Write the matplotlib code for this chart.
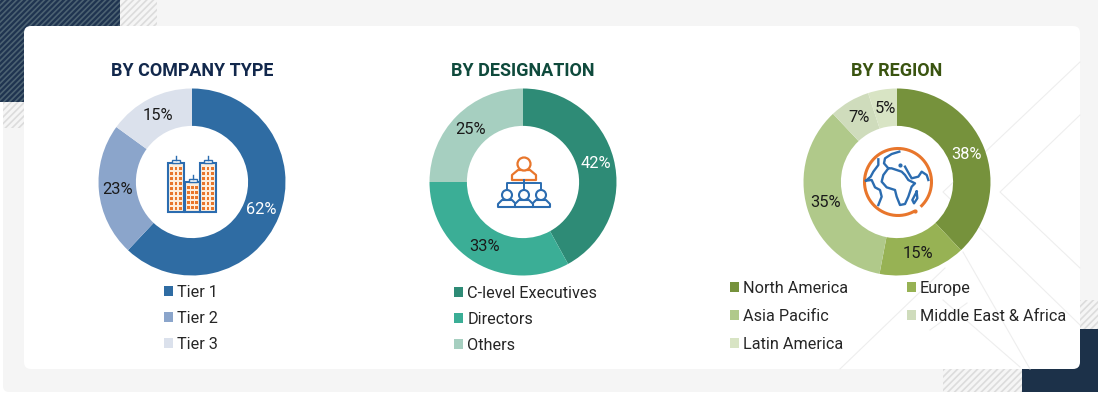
import numpy as np
import matplotlib
matplotlib.use('Agg')
import matplotlib.pyplot as plt
from matplotlib.patches import Rectangle, FancyBboxPatch, Circle, Polygon

W, H = 1100, 393

# data
company_labels = ['Tier 1', 'Tier 2', 'Tier 3']
company_values = [62, 23, 15]
company_colors = ['#2f6ca3', '#8ba5cb', '#dbe1ec']

designation_labels = ['C-level Executives', 'Directors', 'Others']
designation_values = [42, 33, 25]
designation_colors = ['#2e8b76', '#3bae96', '#a6cfc0']

region_labels = ['North America', 'Europe', 'Asia Pacific', 'Middle East & Africa', 'Latin America']
region_values = [38, 15, 35, 7, 5]
region_colors = ['#76923c', '#97b254', '#b0c98a', '#cfdcbc', '#d8e4c4']

plt.rcParams['font.family'] = ['Roboto', 'DejaVu Sans']
plt.rcParams['hatch.linewidth'] = 1.2

fig = plt.figure(figsize=(W / 100, H / 100), dpi=100, facecolor='white')

# background layer in pixel coordinates
bg = fig.add_axes([0, 0, 1, 1], zorder=0)
bg.set_xlim(0, W)
bg.set_ylim(H, 0)
bg.axis('off')

bg.add_patch(FancyBboxPatch((3, -8), 1095, 400, boxstyle='round,pad=0,rounding_size=6',
                            fc='#f5f5f5', ec='none'))
bg.add_patch(Rectangle((0, 0), 120, 102, fc='#1f3450', ec='#4c6272', hatch='//////', lw=0))
bg.add_patch(Rectangle((120, 0), 37, 26, fc='#f5f5f5', ec='#dcdcdc', hatch='/////', lw=0))
bg.add_patch(Rectangle((3, 102), 21, 26, fc='#f5f5f5', ec='#dcdcdc', hatch='/////', lw=0))
bg.add_patch(Rectangle((1022, 329), 76, 63, fc='#1c3149', ec='none'))
bg.add_patch(Rectangle((943, 369), 79, 23, fc='#f5f5f5', ec='#dcdcdc', hatch='/////', lw=0))
bg.add_patch(Rectangle((1080, 300), 18, 29, fc='#f5f5f5', ec='#dcdcdc', hatch='/////', lw=0))
bg.add_patch(FancyBboxPatch((24, 26), 1056, 343, boxstyle='round,pad=0,rounding_size=7', fc='white', ec='none'))

# faint chevrons behind the region chart
for xs, ys in [([1080, 943, 1080], [62, 192, 325]),
               ([1080, 1000, 1080], [115, 192, 268]),
               ([963, 1030], [252, 369]),
               ([840, 945], [369, 268]),
               ([930, 967], [330, 303]),
               ([943, 1020], [300, 367])]:
    bg.plot(xs, ys, color='#eeeeee', lw=0.8)


def donut(cx, values, colors):
    r = 93.5
    cy = 182
    ax = fig.add_axes([(cx - r) / W, 1 - (cy + r) / H, 2 * r / W, 2 * r / H], zorder=1)
    wedges, _, pct = ax.pie(values, colors=colors, startangle=90, counterclock=False, radius=1,
                            wedgeprops={'width': 0.4, 'linewidth': 0}, autopct='%d%%', pctdistance=0.8)
    ax.set_xlim(-1, 1)
    ax.set_ylim(-1, 1)
    for t in pct:
        t.set_fontsize(11.8)
        t.set_color('#1a1a1a')
    return wedges, pct


w1, p1 = donut(192, company_values, company_colors)
w2, p2 = donut(523, designation_values, designation_colors)
w3, p3 = donut(897, region_values, region_colors)
p1[0].set_color('white')
p2[0].set_color('white')
p3[0].set_color('white')

# titles
fg = fig.add_axes([0, 0, 1, 1], zorder=2)
fg.set_xlim(0, W)
fg.set_ylim(H, 0)
fg.axis('off')
fg.patch.set_alpha(0)
fg.text(192, 71, 'BY COMPANY TYPE', ha='center', va='center', fontsize=12.9, fontweight='bold', color='#12284c')
fg.text(523, 71, 'BY DESIGNATION', ha='center', va='center', fontsize=13, fontweight='bold', color='#0f4a3c')
fg.text(897, 71, 'BY REGION', ha='center', va='center', fontsize=13, fontweight='bold', color='#3a5410')

# legends
leg_opts = dict(frameon=False, fontsize=11.7, borderpad=0, borderaxespad=0, handlelength=0.56, handleheight=0.56,
                handletextpad=0.25, labelcolor='#262626', loc='upper left')
fig.legend(w1, company_labels, bbox_to_anchor=(164 / W, 1 - 285 / H), labelspacing=0.68, **leg_opts)
fig.legend(w2, designation_labels, bbox_to_anchor=(454 / W, 1 - 286 / H), labelspacing=0.68, **leg_opts)
order = [0, 2, 4, 1, 3]
fig.legend([w3[i] for i in order], [region_labels[i] for i in order], ncol=2, columnspacing=3.6,
           bbox_to_anchor=(730 / W, 1 - 281 / H), labelspacing=0.8, **leg_opts)

# building icon
blue = '#2b6cb0'
orange = '#e8762c'
for x0, y0, x1 in [(168, 163, 184), (185, 182, 200), (200, 163, 216)]:
    fg.add_patch(Rectangle((x0, y0), x1 - x0, 212 - y0, fc='#fdeedd', ec=blue, lw=1.5))
    fg.add_patch(Rectangle(((x0 + x1) / 2 - 4, y0 - 3), 8, 3, fc='white', ec=blue, lw=1))
    fg.plot([(x0 + x1) / 2] * 2, [y0 - 7, y0 - 3], color=blue, lw=1)
    for wx in np.linspace(x0 + 3.5, x1 - 3.5, 3):
        for wy in np.arange(y0 + 5, 210, 5):
            fg.add_patch(Rectangle((wx - 1.1, wy - 1.5), 2.2, 3, fc=orange, ec='none'))

# people icon
fg.add_patch(Polygon([(512, 180), (512, 175), (518, 170), (530, 170), (536, 175), (536, 180)],
                     closed=True, fc='white', ec=orange, lw=1.6, joinstyle='round'))
fg.add_patch(Circle((524, 164), 6.5, fc='white', ec=orange, lw=1.6))
fg.plot([507, 507, 541, 541], [189, 183, 183, 189], color=blue, lw=1.4)
fg.plot([524, 524], [180, 189], color=blue, lw=1.4)
for px in [507, 541, 524]:
    fg.add_patch(Polygon([(px - 9, 207), (px - 9, 204), (px - 5, 200), (px + 5, 200), (px + 9, 204), (px + 9, 207)],
                         closed=True, fc='white', ec=blue, lw=1.5, joinstyle='round'))
    fg.add_patch(Circle((px, 195), 5, fc='white', ec=blue, lw=1.5))

# globe icon
a = np.radians(np.linspace(62, 405, 200))
fg.plot(898 + 33.5 * np.cos(a), 182 + 33.5 * np.sin(a), color=orange, lw=2.2)
fg.plot(898 + 33.5 * np.cos(np.radians(59)), 182 + 33.5 * np.sin(np.radians(59)), 'o', color=orange, ms=2)


def zoomed(pts):
    xs, ys = zip(*pts)
    return 780 + np.array(xs) / 3, 130 + np.array(ys) / 3


globe_lines = [
    [(295, 88), (295, 105), (280, 125), (272, 140), (258, 152)],
    [(258, 152), (275, 150), (285, 172), (300, 180), (305, 200), (295, 225)],
    [(358, 65), (335, 72), (315, 85), (312, 100), (325, 115), (310, 135), (305, 155), (320, 172), (345, 180),
     (350, 200), (360, 225), (375, 222), (385, 200), (395, 170), (405, 160), (385, 150), (375, 135), (365, 125),
     (350, 120), (335, 115), (325, 115)],
    [(375, 110), (385, 128), (395, 145), (415, 140), (425, 125), (440, 135), (445, 150)],
    [(410, 185), (412, 205), (402, 220), (397, 210), (410, 185)],
]
for line in globe_lines:
    xs, ys = zoomed(line)
    fg.plot(xs, ys, color=blue, lw=1.7, solid_joinstyle='round')
dx, dy = zoomed([(360, 104)])
fg.plot(dx, dy, 'o', color=blue, ms=2)

fig.savefig('out.png', dpi=100, facecolor=fig.get_facecolor())
